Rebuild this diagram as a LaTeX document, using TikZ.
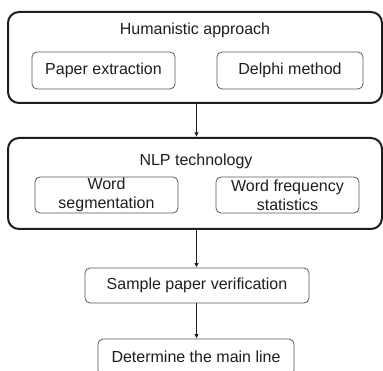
\documentclass[tikz,border=0pt]{standalone}
\usepackage{fontspec}
\setmainfont{Liberation Sans}
\usetikzlibrary{arrows.meta}
\definecolor{ink}{HTML}{1E1E1E}
\definecolor{frame}{HTML}{5A5A5A}
\tikzset{
  group/.style={draw=ink, line width=2pt, rounded corners=11pt, inner sep=0pt},
  item/.style={draw=frame, line width=0.8pt, rounded corners=5pt, inner sep=0pt,
    align=center, text=ink, font=\fontsize{16}{19}\selectfont},
  title/.style={text=ink, font=\fontsize{16}{19}\selectfont, inner sep=0pt},
  flow/.style={draw=ink, line width=1pt, -{Latex[length=4.5pt,width=4.5pt]}}
}
\begin{document}
\begin{tikzpicture}[x=1pt, y=-1pt]
  \clip (0,0) rectangle (383,371);
  \fill[white] (0,0) rectangle (383,371);

  % first stage: humanistic approach
  \node[group, minimum width=374pt, minimum height=91pt] (hum) at (195,57.5) {};
  \node[title] (humt) at (195,30) {Humanistic approach};
  \node[item, minimum width=143pt, minimum height=37pt] (paper) at (103.5,70.5) {Paper extraction};
  \node[item, minimum width=146pt, minimum height=37pt] (delphi) at (290,70.5) {Delphi method};

  % second stage: NLP technology
  \node[group, minimum width=374pt, minimum height=91pt] (nlp) at (195,183.5) {};
  \node[title] (nlpt) at (196,161) {NLP technology};
  \node[item, minimum width=143pt, minimum height=36pt] (seg) at (106.5,195) {Word\\segmentation};
  \node[item, minimum width=143pt, minimum height=36pt] (freq) at (287.5,195) {Word frequency\\statistics};

  % verification and result
  \node[item, minimum width=224pt, minimum height=35pt] (sample) at (197,285.5) {Sample paper verification};
  \node[item, minimum width=196pt, minimum height=36pt] (main) at (196,357) {Determine the main line};

  % connectors
  \draw[flow] (hum.south -| 196.5,0) -- (nlp.north -| 196.5,0);
  \draw[flow] (nlp.south -| 196.5,0) -- (sample.north -| 196.5,0);
  \draw[flow] (sample.south -| 196.5,0) -- (main.north -| 196.5,0);
\end{tikzpicture}
\end{document}
